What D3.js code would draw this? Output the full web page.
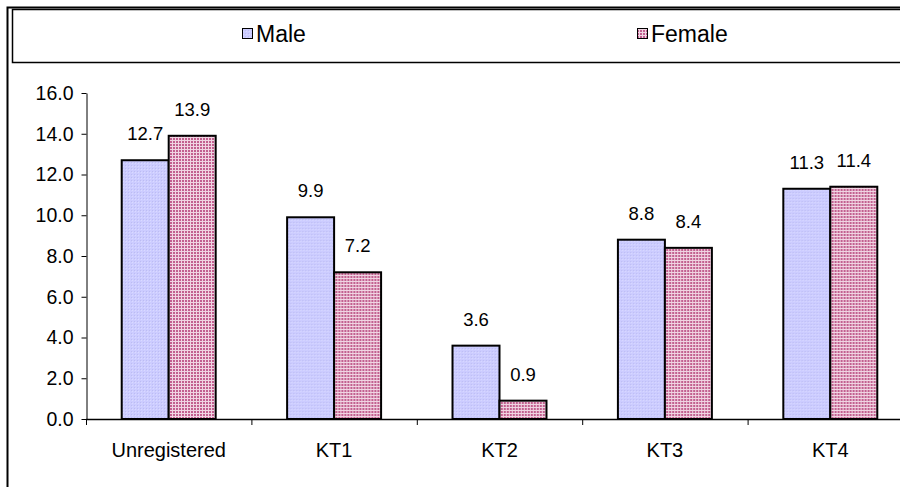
<!DOCTYPE html>
<html lang="en">
<head>
    <meta charset="UTF-8">
    <title>Male / Female by registration</title>
    <script src="https://d3js.org/d3.v7.min.js"></script>
    <style>
        body { margin: 0; background: #fff; }
        text { font-family: "Liberation Sans", Arial, sans-serif; fill: #000; }
    </style>
</head>
<body>
    <svg id="chart" width="900" height="487"></svg>
    <script>
        const categories = ["Unregistered", "KT1", "KT2", "KT3", "KT4"];
        const series = ["Male", "Female"];
        const maleValues = [12.7, 9.9, 3.6, 8.8, 11.3];
        const femaleValues = [13.9, 7.2, 0.9, 8.4, 11.4];
        const yTicks = [0, 2, 4, 6, 8, 10, 12, 14, 16];

        const svg = d3.select("#chart");

        // fills, roughly like the old office patterns
        const defs = svg.append("defs");
        const pm = defs.append("pattern").attr("id", "pat-male")
            .attr("width", 3).attr("height", 3).attr("patternUnits", "userSpaceOnUse");
        pm.append("rect").attr("width", 3).attr("height", 3).attr("fill", "#ccccff");
        pm.append("rect").attr("x", 0).attr("y", 0).attr("width", 1).attr("height", 1).attr("fill", "#bcbcf2");
        pm.append("rect").attr("x", 1).attr("y", 1).attr("width", 1).attr("height", 1).attr("fill", "#dadaff");

        const pf = defs.append("pattern").attr("id", "pat-female")
            .attr("width", 3).attr("height", 3).attr("patternUnits", "userSpaceOnUse");
        pf.append("rect").attr("width", 3).attr("height", 3).attr("fill", "#c2608f");
        pf.append("rect").attr("x", 2).attr("y", 0).attr("width", 1).attr("height", 3).attr("fill", "#f0d4e2");
        pf.append("rect").attr("x", 0).attr("y", 2).attr("width", 3).attr("height", 1).attr("fill", "#f0d4e2");

        const fills = { Male: "url(#pat-male)", Female: "url(#pat-female)" };

        // frames (chart is cropped on the right and bottom)
        svg.append("rect").attr("x", 7.5).attr("y", 7.5).attr("width", 1000).attr("height", 1000)
            .attr("fill", "none").attr("stroke", "#000").attr("stroke-width", 2);
        svg.append("rect").attr("x", 12.5).attr("y", 9.5).attr("width", 1000).attr("height", 53)
            .attr("fill", "none").attr("stroke", "#000").attr("stroke-width", 1.5);

        // legend
        const legendX = { Male: 242, Female: 637 };
        series.forEach(s => {
            const g = svg.append("g").attr("transform", `translate(${legendX[s]},0)`);
            g.append("rect").attr("x", 0.5).attr("y", 28.5).attr("width", 10).attr("height", 10)
                .attr("fill", fills[s]).attr("stroke", "#000").attr("stroke-width", 1);
            g.append("text").attr("x", 14).attr("y", 41.5).attr("font-size", 23).text(s);
        });

        // scales
        const x0 = d3.scaleBand().domain(categories).range([86, 913]).padding(0);
        const x1 = d3.scaleBand().domain(series).range([0, x0.bandwidth()])
            .paddingInner(0).paddingOuter(0.76);
        const y = d3.scaleLinear().domain([0, 16]).range([419, 93]);

        // y axis
        const yAxis = svg.append("g").attr("transform", "translate(86.5,0)")
            .call(d3.axisLeft(y).tickValues(yTicks).tickFormat(d3.format(".1f"))
                .tickSize(5).tickSizeOuter(0).tickPadding(8));
        yAxis.selectAll("text").attr("font-size", 19.5).style("font-family", "'Liberation Sans', Arial, sans-serif");
        yAxis.selectAll("path, line").attr("stroke", "#000");

        // bars
        const data = categories.map((c, i) => ({ cat: c, Male: maleValues[i], Female: femaleValues[i] }));
        const groups = svg.append("g").selectAll("g").data(data).join("g")
            .attr("transform", d => `translate(${x0(d.cat)},0)`);
        const bars = groups.selectAll("g").data(d => series.map(s => ({ s, v: d[s] }))).join("g");
        bars.append("rect")
            .attr("x", d => x1(d.s))
            .attr("y", d => y(d.v))
            .attr("width", x1.bandwidth())
            .attr("height", d => y(0) - y(d.v))
            .attr("fill", d => fills[d.s])
            .attr("stroke", "#000").attr("stroke-width", 2);
        bars.append("text")
            .attr("x", d => x1(d.s) + x1.bandwidth() / 2)
            .attr("y", d => y(d.v) - 20)
            .attr("text-anchor", "middle").attr("font-size", 18.5)
            .text(d => d3.format(".1f")(d.v));

        // x axis: boundary ticks and centred labels
        const xAxis = svg.append("g");
        xAxis.append("line").attr("x1", 86).attr("x2", 913)
            .attr("y1", y(0) + 0.5).attr("y2", y(0) + 0.5).attr("stroke", "#000").attr("stroke-width", 1.5);
        const bounds = categories.map(c => x0(c)).concat([x0.range()[1]]);
        xAxis.selectAll("line.tick").data(bounds).join("line").attr("class", "tick")
            .attr("x1", d => d + 0.5).attr("x2", d => d + 0.5)
            .attr("y1", y(0)).attr("y2", y(0) + 6).attr("stroke", "#000");
        xAxis.selectAll("text").data(categories).join("text")
            .attr("x", d => x0(d) + x0.bandwidth() / 2)
            .attr("y", 457)
            .attr("text-anchor", "middle").attr("font-size", 20)
            .text(d => d);
    </script>
</body>
</html>
